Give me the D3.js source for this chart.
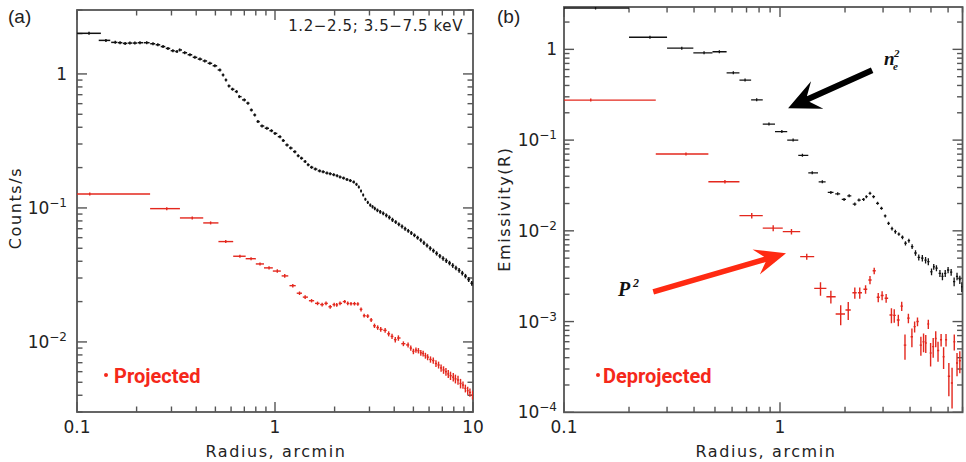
<!DOCTYPE html>
<html>
<head>
<meta charset="utf-8">
<script src="https://cdn.jsdelivr.net/npm/d3@7"></script>
<style>
  html, body { margin: 0; padding: 0; background: #fff; }
  svg { display: block; }
  .lab { font-family: 'DejaVu Sans', sans-serif; font-size: 16px; fill: #222; letter-spacing: 1.6px; }
  .tick { font-family: 'DejaVu Sans', sans-serif; font-size: 17px; fill: #222; }
  .panel { font-family: 'Liberation Sans', Arial, sans-serif; font-size: 19px; fill: #222; }
  .legend { font-family: Roboto, sans-serif; font-weight: 700; font-size: 20px; fill: #f5281a; }
  .math { font-family: 'Liberation Serif', serif; font-weight: 700; font-style: italic; fill: #111; }
</style>
</head>
<body>
<div id="chart"></div>
<script>
const W = 966;
const H = 462;

// ----------------------------DATA-------------------------------//
// panel (a), projected profile: [radius arcmin, counts/s, error]
const projBlack = [
  [0.115, 2.01, 0.02], [0.140, 1.78, 0.02], [0.156, 1.72, 0.02], [0.165, 1.71, 0.02],
  [0.175, 1.69, 0.02], [0.185, 1.70, 0.02], [0.196, 1.70, 0.02], [0.208, 1.71, 0.02],
  [0.225, 1.71, 0.02], [0.242, 1.68, 0.02], [0.256, 1.65, 0.02], [0.272, 1.60, 0.02],
  [0.288, 1.55, 0.02], [0.305, 1.49, 0.02], [0.320, 1.47, 0.02], [0.330, 1.51, 0.02],
  [0.350, 1.44, 0.02], [0.372, 1.39, 0.02], [0.394, 1.33, 0.02], [0.418, 1.29, 0.015],
  [0.442, 1.25, 0.015], [0.469, 1.20, 0.015], [0.497, 1.15, 0.015], [0.527, 1.07, 0.012],
  [0.547, 0.983, 0.012], [0.565, 0.902, 0.01], [0.585, 0.814, 0.01], [0.610, 0.769, 0.01],
  [0.640, 0.738, 0.008], [0.660, 0.677, 0.008], [0.700, 0.640, 0.008], [0.730, 0.605, 0.007],
  [0.760, 0.538, 0.006], [0.790, 0.494, 0.006], [0.820, 0.441, 0.005], [0.860, 0.409, 0.005],
  [0.910, 0.393, 0.005], [0.960, 0.377, 0.005], [1.00, 0.360, 0.006], [1.06, 0.340, 0.006],
  [1.10, 0.318, 0.006], [1.15, 0.295, 0.006], [1.20, 0.280, 0.006], [1.26, 0.263, 0.005],
  [1.31, 0.245, 0.005], [1.36, 0.235, 0.005], [1.42, 0.222, 0.005], [1.47, 0.210, 0.004],
  [1.53, 0.201, 0.004], [1.60, 0.195, 0.004], [1.68, 0.189, 0.004], [1.75, 0.186, 0.004],
  [1.83, 0.182, 0.004], [1.90, 0.180, 0.004], [1.98, 0.177, 0.004], [2.06, 0.174, 0.004],
  [2.13, 0.170, 0.004], [2.22, 0.167, 0.004], [2.31, 0.163, 0.004], [2.40, 0.160, 0.004],
  [2.50, 0.156, 0.004], [2.58, 0.150, 0.004], [2.65, 0.143, 0.003], [2.72, 0.134, 0.003],
  [2.79, 0.125, 0.003], [2.86, 0.116, 0.003], [2.94, 0.110, 0.003], [3.03, 0.105, 0.003],
  [3.11, 0.102, 0.003], [3.19, 0.0990, 0.003], [3.29, 0.0960, 0.003], [3.40, 0.0935, 0.003],
  [3.52, 0.0910, 0.003], [3.65, 0.0880, 0.003], [3.78, 0.0850, 0.003], [3.92, 0.0815, 0.003],
  [4.07, 0.0785, 0.0025], [4.22, 0.0755, 0.0025], [4.38, 0.0728, 0.0025], [4.54, 0.0700, 0.0025],
  [4.71, 0.0675, 0.0022], [4.88, 0.0650, 0.0022], [5.06, 0.0625, 0.002], [5.25, 0.0600, 0.002],
  [5.45, 0.0575, 0.002], [5.65, 0.0548, 0.002], [5.86, 0.0524, 0.0018], [6.08, 0.0500, 0.0018],
  [6.31, 0.0480, 0.0017], [6.55, 0.0458, 0.0017], [6.80, 0.0438, 0.0016], [7.06, 0.0420, 0.0016],
  [7.33, 0.0404, 0.0016], [7.61, 0.0388, 0.0015], [7.90, 0.0372, 0.0015], [8.20, 0.0356, 0.0014],
  [8.51, 0.0342, 0.0014], [8.83, 0.0326, 0.0013], [9.16, 0.0310, 0.0012], [9.51, 0.0292, 0.0012],
  [9.86, 0.0274, 0.0011]
];
const projBlackEdges = [0.1, 0.132];

const projRed = [
  [0.116, 0.127, 0.001], [0.284, 0.0988, 0.001], [0.382, 0.0842, 0.001], [0.473, 0.0773, 0.001],
  [0.564, 0.0561, 0.001], [0.665, 0.0436, 0.001], [0.757, 0.0418, 0.001], [0.84, 0.0382, 0.001],
  [0.933, 0.0357, 0.001], [1.027, 0.0338, 0.001], [1.12, 0.0311, 0.001], [1.23, 0.0263, 0.0008],
  [1.33, 0.0231, 0.0007], [1.42, 0.0216, 0.0007], [1.53, 0.0203, 0.0006], [1.64, 0.0194, 0.0006],
  [1.73, 0.0190, 0.0006], [1.81, 0.0194, 0.0006], [1.90, 0.0183, 0.0006], [1.99, 0.0190, 0.0006],
  [2.05, 0.0189, 0.0006], [2.13, 0.0194, 0.0006], [2.25, 0.0200, 0.0006], [2.33, 0.0194, 0.0006],
  [2.42, 0.0193, 0.0006], [2.52, 0.0193, 0.0006], [2.62, 0.0192, 0.0006], [2.72, 0.0175, 0.0006],
  [2.82, 0.0157, 0.0005], [2.94, 0.0156, 0.0005], [3.06, 0.0146, 0.0005], [3.18, 0.0132, 0.0005],
  [3.30, 0.0128, 0.0005], [3.42, 0.0124, 0.0005], [3.60, 0.0122, 0.0005], [3.75, 0.0115, 0.0005],
  [3.90, 0.0110, 0.0005], [4.05, 0.0104, 0.0005], [4.20, 0.0107, 0.0005], [4.45, 0.0097, 0.0004],
  [4.70, 0.0095, 0.0004], [4.85, 0.0090, 0.0004], [5.00, 0.0085, 0.0004], [5.15, 0.0087, 0.0004],
  [5.30, 0.0086, 0.0004], [5.45, 0.0083, 0.0004], [5.60, 0.0082, 0.0004], [5.75, 0.0079, 0.0004],
  [5.90, 0.0077, 0.0004], [6.10, 0.0074, 0.0004], [6.30, 0.00726, 0.0004], [6.50, 0.0069, 0.0004],
  [6.70, 0.00673, 0.0004], [6.90, 0.0064, 0.0004], [7.10, 0.00618, 0.0004], [7.30, 0.0060, 0.0004],
  [7.50, 0.00577, 0.0004], [7.70, 0.0056, 0.0004], [7.95, 0.00546, 0.0004], [8.15, 0.0053, 0.0004],
  [8.40, 0.0052, 0.0004], [8.65, 0.0049, 0.0004], [8.90, 0.00477, 0.0003], [9.15, 0.0045, 0.0003],
  [9.40, 0.00433, 0.0003], [9.65, 0.0042, 0.0003], [9.95, 0.00402, 0.0003]
];
const projRedEdges = [0.1, 0.234, 0.331, 0.434, 0.518, 0.615, 0.711, 0.80, 0.88, 0.975, 1.07];

// panel (b), deprojected emissivity: [radius arcmin, emissivity, error]
const deprojBlack = [
  [0.14, 2.85, 0.02], [0.25, 1.36, 0.01], [0.351, 1.03, 0.01], [0.445, 0.917, 0.01],
  [0.524, 0.941, 0.01], [0.608, 0.552, 0.01], [0.689, 0.459, 0.008], [0.78, 0.278, 0.005],
  [0.889, 0.150, 0.003], [1.02, 0.124, 0.003], [1.15, 0.100, 0.002], [1.27, 0.068, 0.002],
  [1.41, 0.0436, 0.0012], [1.57, 0.0347, 0.001], [1.72, 0.0265, 0.0009], [1.85, 0.0256, 0.0009],
  [1.98, 0.0222, 0.0008], [2.09, 0.0243, 0.0008], [2.22, 0.0197, 0.0008], [2.32, 0.0218, 0.0008],
  [2.44, 0.0222, 0.0008], [2.51, 0.0238, 0.0008], [2.61, 0.0259, 0.0008], [2.71, 0.0238, 0.0008],
  [2.83, 0.0201, 0.0007], [2.95, 0.0177, 0.0006], [3.07, 0.0146, 0.0005], [3.18, 0.0121, 0.0005],
  [3.30, 0.0106, 0.0005], [3.42, 0.0098, 0.0005], [3.55, 0.0092, 0.0004], [3.69, 0.0085, 0.0004],
  [3.81, 0.0073, 0.0004], [3.95, 0.0078, 0.0004], [4.09, 0.0067, 0.0004], [4.24, 0.0057, 0.0004],
  [4.39, 0.0051, 0.0004], [4.56, 0.0050, 0.0004], [4.72, 0.00476, 0.0004], [4.86, 0.00458, 0.0004],
  [5.03, 0.00354, 0.0003], [5.15, 0.00402, 0.0003], [5.30, 0.00388, 0.0003], [5.50, 0.0034, 0.0003],
  [5.65, 0.00315, 0.0003], [5.82, 0.0034, 0.0003], [6.00, 0.0037, 0.0003], [6.20, 0.0035, 0.0003],
  [6.40, 0.00275, 0.0003], [6.60, 0.00315, 0.0003], [6.80, 0.0029, 0.0003], [6.95, 0.00242, 0.0003]
];
const deprojBlackEdges = [0.1, 0.2, 0.30, 0.397, 0.487, 0.566, 0.649, 0.735, 0.832, 0.948, 1.08, 1.215, 1.352, 1.50];

const deprojRed = [
  [0.133, 0.276, 0.004], [0.367, 0.0702, 0.001], [0.556, 0.0348, 0.0015], [0.74, 0.0147, 0.001],
  [0.93, 0.0107, 0.0008], [1.13, 0.0098, 0.0007], [1.33, 0.00519, 0.0004], [1.54, 0.00232, 0.0004],
  [1.72, 0.00188, 0.0003], [1.91, 0.00121, 0.0003], [2.07, 0.00134, 0.0003], [2.22, 0.00208, 0.0003],
  [2.34, 0.00208, 0.0003], [2.49, 0.00227, 0.00025], [2.61, 0.00287, 0.0003], [2.73, 0.00363, 0.0003],
  [2.85, 0.00185, 0.00022], [2.97, 0.00194, 0.00022], [3.10, 0.00181, 0.0002], [3.28, 0.00118, 0.00022],
  [3.38, 0.00117, 0.0002], [3.53, 0.00104, 0.00015], [3.66, 0.00148, 0.00017], [3.79, 0.00055, 0.00017],
  [3.93, 0.00109, 0.00013], [4.08, 0.00068, 0.00016], [4.20, 0.00088, 0.00012], [4.33, 0.00100, 0.00011],
  [4.49, 0.00055, 0.00013], [4.62, 0.00060, 0.00014], [4.73, 0.00058, 0.00013], [4.86, 0.00094, 0.00011],
  [4.98, 0.00045, 0.00013], [5.12, 0.00053, 0.00013], [5.26, 0.00065, 0.00013], [5.39, 0.00048, 0.00012],
  [5.57, 0.00063, 0.0001], [5.72, 0.00041, 0.00011], [5.87, 0.00063, 0.0001], [6.05, 0.00025, 0.0001],
  [6.26, 0.00021, 0.0001], [6.41, 0.00060, 0.00012], [6.60, 0.00035, 0.0001], [6.80, 0.00037, 0.0001]
];
const deprojRedEdges = [0.1, 0.266, 0.466, 0.649, 0.832, 1.03, 1.24, 1.44, 1.64, 1.81, 2.0];

// tick labels
const xTickVals = [0.1, 1, 10];
const xTickText = ['0.1', '1', '10'];
const yExpA = [0, -1, -2];
const yExpB = [0, -1, -2, -3, -4];

// annotations (data units of panel b)
const neArrow = { from: [2.67, 0.59], to: [1.09, 0.225] };
const p2Arrow = { from: [0.259, 0.00213], to: [1.066, 0.00565] };

// ----------------------------SCALES-----------------------------//
const xA = d3.scaleLog().domain([0.1, 10]).range([77, 473]);
const yA = d3.scaleLog().domain([0.003, 3]).range([412, 10]);
const xB = d3.scaleLog().domain([0.1, 7]).range([564, 564 + 216 * Math.log10(70)]);
const yB = d3.scaleLog().domain([1e-4, 2.93]).range([412.3, 7]);

const svg = d3.select('#chart').append('svg')
  .attr('width', W)
  .attr('height', H)
  .attr('viewBox', `0 0 ${W} ${H}`);

const isMajor = t => Math.abs(Math.log10(t) - Math.round(Math.log10(t))) < 1e-6;

function drawFrame(id, x, y, yExps, labelGap) {
  const [xl, xr] = x.range();
  const [yb, yt] = y.range();
  const g = svg.append('g');

  g.append('clipPath').attr('id', id)
    .append('rect').attr('x', xl).attr('y', yt).attr('width', xr - xl).attr('height', yb - yt);

  const tk = g.append('g').attr('stroke', '#555').attr('stroke-width', 1.4);
  x.ticks().forEach(t => {
    const len = isMajor(t) ? 10 : 5.5;
    tk.append('line').attr('x1', x(t)).attr('x2', x(t)).attr('y1', yb).attr('y2', yb - len);
    tk.append('line').attr('x1', x(t)).attr('x2', x(t)).attr('y1', yt).attr('y2', yt + len);
  });
  y.ticks().forEach(t => {
    const len = isMajor(t) ? 10 : 5.5;
    tk.append('line').attr('x1', xl).attr('x2', xl + len).attr('y1', y(t)).attr('y2', y(t));
    tk.append('line').attr('x1', xr).attr('x2', xr - len).attr('y1', y(t)).attr('y2', y(t));
  });
  g.append('rect')
    .attr('x', xl).attr('y', yt).attr('width', xr - xl).attr('height', yb - yt)
    .attr('fill', 'none').attr('stroke', '#555').attr('stroke-width', 1.8);

  // x tick labels
  xTickVals.forEach((v, i) => {
    if (v > x.domain()[1] * 1.0001) return;
    g.append('text').attr('class', 'tick')
      .attr('x', x(v)).attr('y', 433).attr('text-anchor', 'middle')
      .text(xTickText[i]);
  });
  // y tick labels
  yExps.forEach(e => {
    const t = g.append('text').attr('class', 'tick')
      .attr('x', xl - labelGap).attr('y', y(Math.pow(10, e)) + 6)
      .attr('text-anchor', 'end');
    if (e === 0) {
      t.text('1');
    } else {
      t.append('tspan').text('10');
      t.append('tspan').attr('dy', -7).attr('font-size', 12).text('\u2212' + (-e));
    }
  });
  return g;
}

function drawPoints(g, clipId, pts, edges, x, y, color, width, shrink) {
  const bins = pts.map((p, i) => {
    if (i < edges.length - 1) return [edges[i], edges[i + 1]];
    const prev = pts[i - 1][0];
    const next = i < pts.length - 1 ? pts[i + 1][0] : p[0] + (p[0] - prev);
    return [p[0] - (p[0] - prev) / 2 * shrink, p[0] + (next - p[0]) / 2 * shrink];
  });
  const [d0, d1] = x.domain();
  const layer = g.append('g')
    .attr('clip-path', `url(#${clipId})`)
    .attr('stroke', color)
    .attr('stroke-width', width);

  layer.selectAll('line.h').data(pts).enter().append('line')
    .attr('class', 'h')
    .attr('x1', (d, i) => x(Math.max(bins[i][0], d0 * 0.98)))
    .attr('x2', (d, i) => x(Math.min(bins[i][1], d1 * 1.02)))
    .attr('y1', d => y(d[1]))
    .attr('y2', d => y(d[1]));

  layer.selectAll('line.v').data(pts).enter().append('line')
    .attr('class', 'v')
    .attr('x1', d => x(d[0]))
    .attr('x2', d => x(d[0]))
    .attr('y1', d => Math.max(y(Math.max(d[1] - d[2], 1e-6)), y(d[1]) + 1.5))
    .attr('y2', d => Math.min(y(d[1] + d[2]), y(d[1]) - 1.5));
}

function drawArrow(g, from, to, color, shaft, headLen, headHalf, notch) {
  const dx = to[0] - from[0];
  const dy = to[1] - from[1];
  const len = Math.hypot(dx, dy);
  const ux = dx / len, uy = dy / len;
  const nx = -uy, ny = ux;
  const neck = [to[0] - ux * (headLen - notch), to[1] - uy * (headLen - notch)];
  const back = [to[0] - ux * headLen, to[1] - uy * headLen];
  const pts = [
    [from[0] + nx * shaft / 2, from[1] + ny * shaft / 2],
    [neck[0] + nx * shaft / 2, neck[1] + ny * shaft / 2],
    [back[0] + nx * headHalf, back[1] + ny * headHalf],
    to,
    [back[0] - nx * headHalf, back[1] - ny * headHalf],
    [neck[0] - nx * shaft / 2, neck[1] - ny * shaft / 2],
    [from[0] - nx * shaft / 2, from[1] - ny * shaft / 2]
  ];
  g.append('path').attr('d', d3.line()(pts) + 'Z').attr('fill', color);
}

// -------------------------PANEL (a)----------------------------//
const gA = drawFrame('clipA', xA, yA, yExpA, 10);
drawPoints(gA, 'clipA', projRed, projRedEdges, xA, yA, '#e3271d', 1.4, 0.85);
drawPoints(gA, 'clipA', projBlack, projBlackEdges, xA, yA, '#111', 1.5, 0.9);

gA.append('text').attr('class', 'panel').attr('x', 8).attr('y', 23).text('(a)');
gA.append('text').attr('class', 'lab')
  .attr('x', 463).attr('y', 31).attr('text-anchor', 'end')
  .style('font-size', '15px').style('letter-spacing', '0.6px')
  .text('1.2\u22122.5; 3.5\u22127.5 keV');
gA.append('text').attr('class', 'lab')
  .attr('x', 276).attr('y', 457).attr('text-anchor', 'middle')
  .text('Radius, arcmin');
gA.append('text').attr('class', 'lab')
  .attr('transform', 'translate(21,208) rotate(-90)')
  .attr('text-anchor', 'middle')
  .text('Counts/s');
gA.append('circle').attr('cx', 106).attr('cy', 375).attr('r', 2).attr('fill', '#f5281a');
gA.append('text').attr('class', 'legend').attr('x', 114).attr('y', 383).text('Projected');

// -------------------------PANEL (b)----------------------------//
const gB = drawFrame('clipB', xB, yB, yExpB, 7);
drawPoints(gB, 'clipB', deprojRed, deprojRedEdges, xB, yB, '#e3271d', 1.4, 0.75);
drawPoints(gB, 'clipB', deprojBlack, deprojBlackEdges, xB, yB, '#111', 1.3, 0.75);

gB.append('text').attr('class', 'panel').attr('x', 497).attr('y', 23).text('(b)');
gB.append('text').attr('class', 'lab')
  .attr('x', 766).attr('y', 457).attr('text-anchor', 'middle')
  .text('Radius, arcmin');
gB.append('text').attr('class', 'lab')
  .attr('transform', 'translate(510,209) rotate(-90)')
  .attr('text-anchor', 'middle')
  .text('Emissivity(R)');
gB.append('circle').attr('cx', 598).attr('cy', 375).attr('r', 2).attr('fill', '#f5281a');
gB.append('text').attr('class', 'legend').attr('x', 603).attr('y', 383).text('Deprojected');

drawArrow(gB, [xB(neArrow.from[0]), yB(neArrow.from[1])], [xB(neArrow.to[0]), yB(neArrow.to[1])],
  '#000', 6, 32, 15, 10);
drawArrow(gB, [xB(p2Arrow.from[0]), yB(p2Arrow.from[1])], [xB(p2Arrow.to[0]), yB(p2Arrow.to[1])],
  '#ff2a12', 5.5, 31, 13, 9);

// n_e^2 label
const neX = xB(3.03);
const neY = yB(0.671);
gB.append('text').attr('class', 'math')
  .attr('x', neX).attr('y', neY).style('font-size', '19px').text('n');
gB.append('text').attr('class', 'math').style('font-size', '11px')
  .attr('x', neX + 10).attr('y', neY - 8).text('2');
gB.append('text').attr('class', 'math').style('font-size', '11px')
  .attr('x', neX + 9).attr('y', neY + 5).text('e');

// P^2 label
gB.append('text').attr('class', 'math')
  .attr('x', xB(0.178)).attr('y', yB(0.00191)).style('font-size', '20px').text('P');
gB.append('text').attr('class', 'math').style('font-size', '12px')
  .attr('x', xB(0.178) + 15).attr('y', yB(0.00191) - 9).text('2');
</script>
</body>
</html>
